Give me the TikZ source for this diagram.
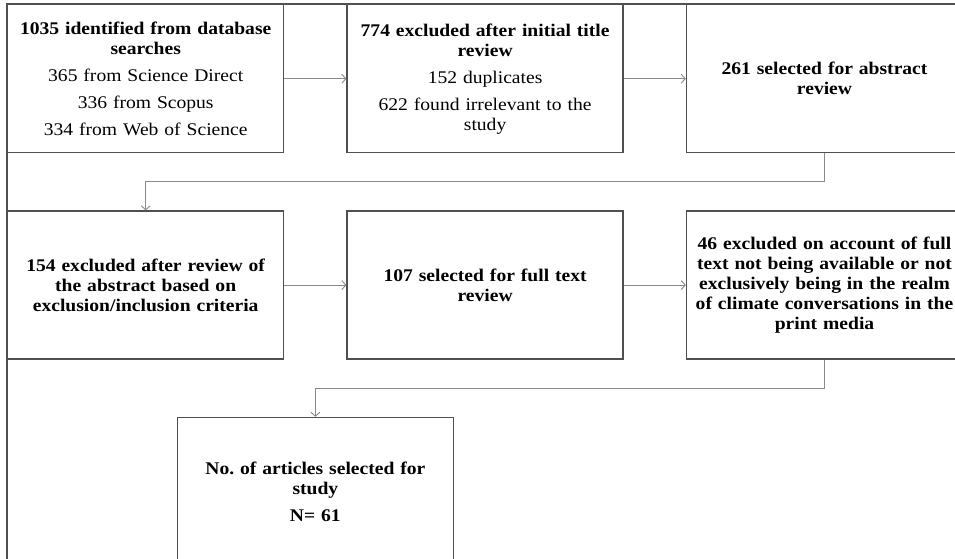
\documentclass[tikz,border=0pt]{standalone}
\usepackage{fontspec}
\setmainfont{Liberation Serif}[FakeStretch=1.1]
\usetikzlibrary{positioning,arrows.meta,calc}
\definecolor{edge}{HTML}{505050}
\definecolor{link}{HTML}{8A8A8A}
\tikzstyle{arr}=[-{Straight Barb[length=4pt,width=9pt]},draw=link,line width=0.9pt]
\frenchspacing

\begin{document}
\begin{tikzpicture}[x=1pt,y=1pt]
  \tikzstyle box=[draw=edge,line width=1.4pt,minimum width=276pt,minimum height=148pt,
    text width=262pt,align=center,inner sep=0pt,font=\fontsize{17.8}{20}\selectfont];
  \def\gx{62pt}
  \def\gy{57pt}
  \def\hy{28.5pt}

  \useasboundingbox (0,0) rectangle (955,-559);
  \clip (0,0) rectangle (955,-559);

  % outer frame
  \draw[edge,line width=1.4pt] (7,-4) rectangle (1200,-800);

  % first row
  \node[box,anchor=north west] (found) at (7,-4)
    {\textbf{1035 identified from database}\\ \textbf{searches}\\[7pt]
     365 from Science Direct\\[7pt] 336 from Scopus\\[7pt] 334 from Web of Science};
  \node[box,right=\gx of found] (title)
    {\textbf{774 excluded after initial title}\\ \textbf{review}\\[7pt]
     152 duplicates\\[7pt] 622 found irrelevant to the\\ study};
  \node[box,right=\gx of title] (abstract)
    {\textbf{261 selected for abstract}\\ \textbf{review}};

  % second row
  \node[box,below=\gy of found] (criteria)
    {\textbf{154 excluded after review of}\\ \textbf{the abstract based on}\\
     \textbf{exclusion/inclusion criteria}};
  \node[box,right=\gx of criteria] (fulltext)
    {\textbf{107 selected for full text}\\ \textbf{review}};
  \node[box,right=\gx of fulltext] (excluded)
    {\textbf{46 excluded on account of full}\\ \textbf{text not being available or not}\\
     \textbf{exclusively being in the realm}\\ \textbf{of climate conversations in the}\\
     \textbf{print media}};

  % last box
  \coordinate (mid) at ($(criteria.south)!0.5!(fulltext.south)$);
  \node[box,below=\gy of mid] (study)
    {\textbf{No. of articles selected for}\\ \textbf{study}\\[7pt] \textbf{N= 61}};

  % connectors
  \draw[arr] (found) -- (title);
  \draw[arr] (title) -- (abstract);
  \draw[arr] (abstract.south) -- ++(0,-\hy) -| (criteria.north);
  \draw[arr] (criteria) -- (fulltext);
  \draw[arr] (fulltext) -- (excluded);
  \draw[arr] (excluded.south) -- ++(0,-\hy) -| (study.north);
\end{tikzpicture}
\end{document}
